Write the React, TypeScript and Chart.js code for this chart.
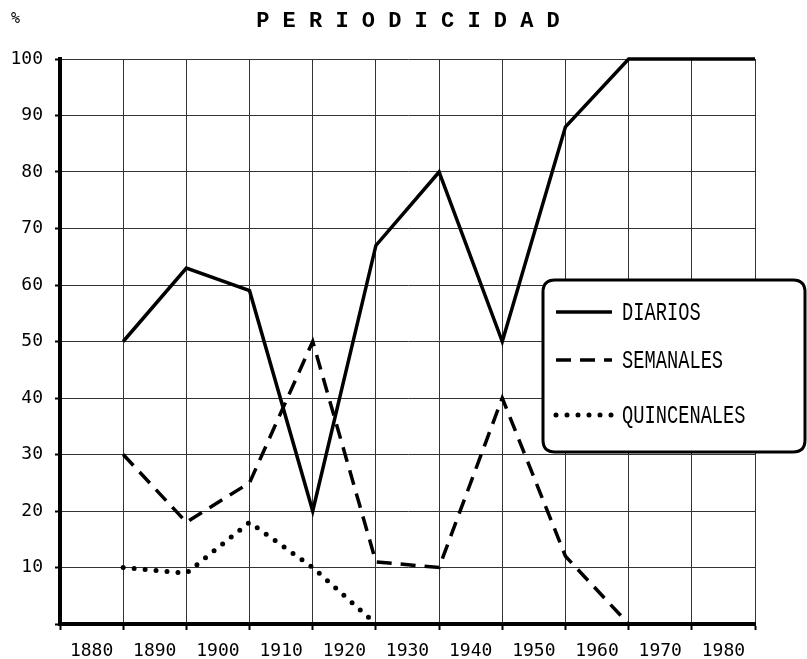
import React, { useEffect, useRef } from 'react';
import { Chart, registerables } from 'chart.js';

Chart.register(...registerables);

// ---- data ----
const decadeLabels = ['1880', '1890', '1900', '1910', '1920', '1930', '1940', '1950', '1960', '1970', '1980'];
const labelYears = [1880, 1890, 1900, 1910, 1920, 1930, 1940, 1950, 1960, 1970, 1980];
const pointYears = [1885, 1895, 1905, 1915, 1925, 1935, 1945, 1955, 1965, 1975, 1985];
const diarios = [50, 63, 59, 20, 67, 80, 50, 88, 100, 100, 100];
const semanales = [30, 18, 25, 50, 11, 10, 40, 12, 0, null, null];
const quincenales = [10, 9, 18, 10, 0, null, null, null, null, null, null];
const seriesNames = ['DIARIOS', 'SEMANALES', 'QUINCENALES'];
const titleText = 'P E R I O D I C I D A D';
const unitText = '%';

const toPoints = (vals: (number | null)[]) => pointYears.map((x, i) => ({ x, y: vals[i] }));

const decorPlugin = {
  id: 'decor',
  afterDraw(chart: any) {
    const ctx = chart.ctx;
    ctx.save();
    // unit label
    ctx.fillStyle = '#000';
    ctx.font = '15px "DejaVu Sans Mono"';
    ctx.textAlign = 'left';
    ctx.textBaseline = 'middle';
    ctx.fillText(unitText, 11, 19);

    // legend box
    const bx = 543, by = 280, bw = 262, bh = 172, r = 12;
    ctx.beginPath();
    ctx.moveTo(bx + r, by);
    ctx.lineTo(bx + bw - r, by);
    ctx.quadraticCurveTo(bx + bw, by, bx + bw, by + r);
    ctx.lineTo(bx + bw, by + bh - r);
    ctx.quadraticCurveTo(bx + bw, by + bh, bx + bw - r, by + bh);
    ctx.lineTo(bx + r, by + bh);
    ctx.quadraticCurveTo(bx, by + bh, bx, by + bh - r);
    ctx.lineTo(bx, by + r);
    ctx.quadraticCurveTo(bx, by, bx + r, by);
    ctx.closePath();
    ctx.fillStyle = '#fff';
    ctx.fill();
    ctx.lineWidth = 3;
    ctx.strokeStyle = '#000';
    ctx.setLineDash([]);
    ctx.stroke();

    const rows = [312, 360, 415];
    chart.data.datasets.forEach((ds: any, i: number) => {
      const y = rows[i];
      ctx.save();
      ctx.beginPath();
      ctx.setLineDash(ds.borderDash || []);
      ctx.lineWidth = ds.borderWidth;
      ctx.lineCap = ds.borderCapStyle || 'butt';
      ctx.strokeStyle = ds.borderColor;
      ctx.moveTo(556, y);
      ctx.lineTo(612, y);
      ctx.stroke();
      ctx.restore();

      ctx.save();
      ctx.fillStyle = '#000';
      ctx.font = '26px "Liberation Mono"';
      ctx.textAlign = 'left';
      ctx.textBaseline = 'middle';
      ctx.translate(622, y + 1);
      ctx.scale(0.72, 1);
      ctx.fillText(ds.label, 0, 0);
      ctx.restore();
    });
    ctx.restore();
  },
};

export default function App() {
  const ref = useRef<HTMLCanvasElement | null>(null);

  useEffect(() => {
    if (!ref.current) return;
    const gridCommon = {
      color: '#333',
      lineWidth: 1,
      borderDash: [10, 6, 2, 6],
      tickColor: '#000',
      tickWidth: 2,
      tickBorderDash: [],
    };
    const chart = new Chart(ref.current, {
      type: 'line',
      data: {
        datasets: [
          {
            label: seriesNames[0],
            data: toPoints(diarios),
            borderColor: '#000',
            borderWidth: 3.5,
            pointRadius: 0,
            tension: 0,
            clip: false,
          },
          {
            label: seriesNames[1],
            data: toPoints(semanales),
            borderColor: '#000',
            borderWidth: 3.5,
            borderDash: [15, 9],
            pointRadius: 0,
            tension: 0,
            clip: false,
          },
          {
            label: seriesNames[2],
            data: toPoints(quincenales),
            borderColor: '#000',
            borderWidth: 5,
            borderDash: [0, 11],
            borderCapStyle: 'round',
            pointRadius: 0,
            tension: 0,
            clip: false,
          },
        ],
      } as any,
      options: {
        animation: false,
        responsive: true,
        maintainAspectRatio: false,
        layout: { padding: { left: 9, right: 0, top: 0, bottom: 0 } },
        plugins: {
          legend: { display: false },
          tooltip: { enabled: false },
          title: {
            display: true,
            text: titleText,
            color: '#000',
            font: { family: 'Liberation Mono', size: 22, weight: 'bold' },
            padding: { top: 8, bottom: 24.6 },
          },
        },
        scales: {
          x: {
            type: 'linear',
            min: 1875,
            max: 1985,
            offset: false,
            afterBuildTicks: (scale: any) => {
              scale.ticks = labelYears.map((v) => ({ value: v }));
            },
            afterFit: (scale: any) => {
              scale.height = 35;
            },
            ticks: {
              autoSkip: false,
              maxRotation: 0,
              color: '#000',
              padding: 11,
              font: { family: 'DejaVu Sans Mono', size: 18 },
              callback: (value: any) => {
                const idx = labelYears.indexOf(Number(value));
                return idx >= 0 ? decadeLabels[idx] : '';
              },
            },
            grid: { ...gridCommon, offset: true, tickLength: 6 },
            border: { display: true, color: '#000', width: 4 },
          },
          y: {
            type: 'linear',
            min: 0,
            max: 100,
            afterFit: (scale: any) => {
              scale.width = 51;
            },
            ticks: {
              stepSize: 10,
              color: '#000',
              padding: 12,
              font: { family: 'DejaVu Sans Mono', size: 18 },
              callback: (value: any) => (Number(value) === 0 ? '' : String(value)),
            },
            grid: { ...gridCommon, tickLength: 5 },
            border: { display: true, color: '#000', width: 4 },
          },
          yRight: {
            type: 'linear',
            position: 'right',
            min: 0,
            max: 100,
            afterFit: (scale: any) => {
              scale.width = 52;
            },
            ticks: { display: false },
            grid: { display: false, drawTicks: false },
            border: { display: false },
          },
        },
      } as any,
      plugins: [decorPlugin],
    });
    return () => chart.destroy();
  }, []);

  return (
    <div style={{ position: 'fixed', left: 0, top: 0, width: 807, height: 659, background: '#fff' }}>
      <canvas ref={ref} />
    </div>
  );
}
